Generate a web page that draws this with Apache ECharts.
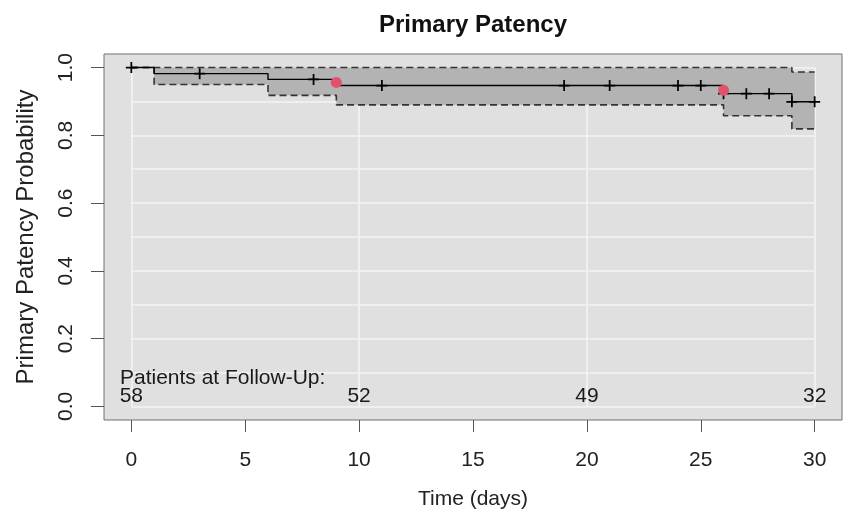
<!DOCTYPE html>
<html>
<head>
<meta charset="utf-8">
<script src="https://cdn.jsdelivr.net/npm/echarts@6/dist/echarts.min.js"></script>
<style>
html,body{margin:0;padding:0;background:#fff;}
#chart{width:843px;height:511px;}
</style>
</head>
<body>
<div id="chart"></div>
<script>
// ---- data ----
const stepTimes   = [0, 1, 6, 9, 26, 29, 30];
const survival    = [1.0, 0.982, 0.965, 0.947, 0.923, 0.899, 0.899];
const upperCI     = [1.0, 1.0, 1.0, 1.0, 1.0, 0.987, 0.987];
const lowerCI     = [1.0, 0.950, 0.918, 0.890, 0.858, 0.819, 0.819];
const censorTimes = [0, 3, 8, 11, 19, 21, 24, 25, 26, 27, 28, 29, 30];
const highlightTimes  = [9, 26];
const highlightValues = [0.956, 0.933];
const riskTimes  = [0, 10, 20, 30];
const riskCounts = [58, 52, 49, 32];
const riskHeader = 'Patients at Follow-Up:';
const xTicks = [0, 5, 10, 15, 20, 25, 30];
const yTicks = [0, 0.2, 0.4, 0.6, 0.8, 1.0];
const hGrid = [0, 0.1, 0.2, 0.3, 0.4, 0.5, 0.6, 0.7, 0.8, 0.9, 1.0];
const vGrid = [0, 10, 20, 30];

// ---- helpers ----
function survAt(t) {
  let v = survival[0];
  for (let i = 0; i < stepTimes.length; i++) if (stepTimes[i] <= t) v = survival[i];
  return v;
}
const FONT = "'Liberation Sans', Arial, Helvetica, sans-serif";
const plusPath = 'path://M4.2,0H5.8V4.2H10V5.8H5.8V10H4.2V5.8H0V4.2H4.2Z';

const gridLines = [];
hGrid.forEach(y => gridLines.push({coords: [[vGrid[0], y], [vGrid[vGrid.length - 1], y]]}));
vGrid.forEach(x => gridLines.push({coords: [[x, hGrid[0]], [x, hGrid[hGrid.length - 1]]]}));

function renderBand(params, api) {
  const pts = [];
  const n = stepTimes.length;
  for (let i = 0; i < n - 1; i++) {
    pts.push(api.coord([stepTimes[i], upperCI[i]]));
    pts.push(api.coord([stepTimes[i + 1], upperCI[i]]));
  }
  for (let i = n - 2; i >= 0; i--) {
    pts.push(api.coord([stepTimes[i + 1], lowerCI[i]]));
    pts.push(api.coord([stepTimes[i], lowerCI[i]]));
  }
  return {type: 'polygon', shape: {points: pts}, style: {fill: '#b3b3b3', stroke: null}};
}

const chart = echarts.init(document.getElementById('chart'), null, {renderer: 'canvas'});
chart.setOption({
  animation: false,
  backgroundColor: '#ffffff',
  textStyle: {fontFamily: FONT},
  title: {
    text: 'Primary Patency',
    left: 468, top: 8, textAlign: 'center',
    textStyle: {fontFamily: FONT, fontWeight: 'bold', fontSize: 24, color: '#111'}
  },
  grid: {
    left: 104, right: 1, top: 54, bottom: 91,
    show: true, backgroundColor: '#e0e0e0', borderColor: '#707070', borderWidth: 1,
    containLabel: false, outerBoundsMode: 'none'
  },
  xAxis: {
    type: 'value', min: -1.2, max: 31.2,
    name: 'Time (days)', nameLocation: 'middle', nameGap: 69,
    nameTextStyle: {fontFamily: FONT, fontSize: 21, color: '#222'},
    axisLine: {show: false, onZero: false},
    splitLine: {show: false},
    axisTick: {show: true, length: 12, customValues: xTicks, lineStyle: {color: '#555', width: 1}},
    axisLabel: {customValues: xTicks, fontSize: 21, color: '#222', margin: 30, fontFamily: FONT}
  },
  yAxis: {
    type: 'value', min: -0.04, max: 1.04,
    name: 'Primary Patency Probability', nameLocation: 'middle', nameGap: 66, nameRotate: 90,
    nameTextStyle: {fontFamily: FONT, fontSize: 24, color: '#222'},
    axisLine: {show: false, onZero: false},
    splitLine: {show: false},
    axisTick: {show: true, length: 13, customValues: yTicks, lineStyle: {color: '#555', width: 1}},
    axisLabel: {customValues: yTicks, rotate: 90, fontSize: 21, color: '#222', margin: 27, fontFamily: FONT,
      formatter: v => Number(v).toFixed(1)}
  },
  series: [
    {
      type: 'lines', coordinateSystem: 'cartesian2d', polyline: false, silent: true, z: 1,
      data: gridLines,
      lineStyle: {color: '#f4f4f4', width: 1.6, opacity: 1}
    },
    {
      type: 'custom', silent: true, z: 2,
      renderItem: renderBand,
      data: [[stepTimes[0], upperCI[0]]]
    },
    {
      type: 'line', step: 'end', symbol: 'none', silent: true, z: 3,
      data: stepTimes.map((t, i) => [t, upperCI[i]]),
      lineStyle: {color: '#333', width: 1.6, type: [7, 4]}
    },
    {
      type: 'line', step: 'end', symbol: 'none', silent: true, z: 3,
      data: stepTimes.map((t, i) => [t, lowerCI[i]]),
      lineStyle: {color: '#333', width: 1.6, type: [7, 4]}
    },
    {
      type: 'line', step: 'end', symbol: 'none', silent: true, z: 4,
      data: stepTimes.map((t, i) => [t, survival[i]]),
      lineStyle: {color: '#000', width: 1.4}
    },
    {
      type: 'scatter', silent: true, z: 5,
      symbol: plusPath, symbolSize: 11,
      itemStyle: {color: '#000', opacity: 1},
      data: censorTimes.map(t => [t, survAt(t)])
    },
    {
      type: 'scatter', silent: true, z: 6,
      symbol: 'circle', symbolSize: 11,
      itemStyle: {color: '#DF536B', opacity: 1},
      data: highlightTimes.map((t, i) => [t, highlightValues[i]])
    },
    {
      type: 'scatter', silent: true, z: 6, symbolSize: 0,
      itemStyle: {opacity: 1},
      data: riskTimes.map((t, i) => ({value: [t, 0.031], name: String(riskCounts[i])})),
      label: {show: true, position: 'inside', formatter: p => p.name, opacity: 1,
        fontFamily: FONT, fontSize: 21, color: '#1a1a1a', align: 'center', verticalAlign: 'middle'}
    },
    {
      type: 'scatter', silent: true, z: 6, symbolSize: 0,
      itemStyle: {opacity: 1},
      data: [{value: [-0.5, 0.084], name: riskHeader}],
      label: {show: true, position: [0, 0], formatter: p => p.name, opacity: 1,
        fontFamily: FONT, fontSize: 21, color: '#1a1a1a', align: 'left', verticalAlign: 'middle'}
    }
  ]
});
</script>
</body>
</html>
